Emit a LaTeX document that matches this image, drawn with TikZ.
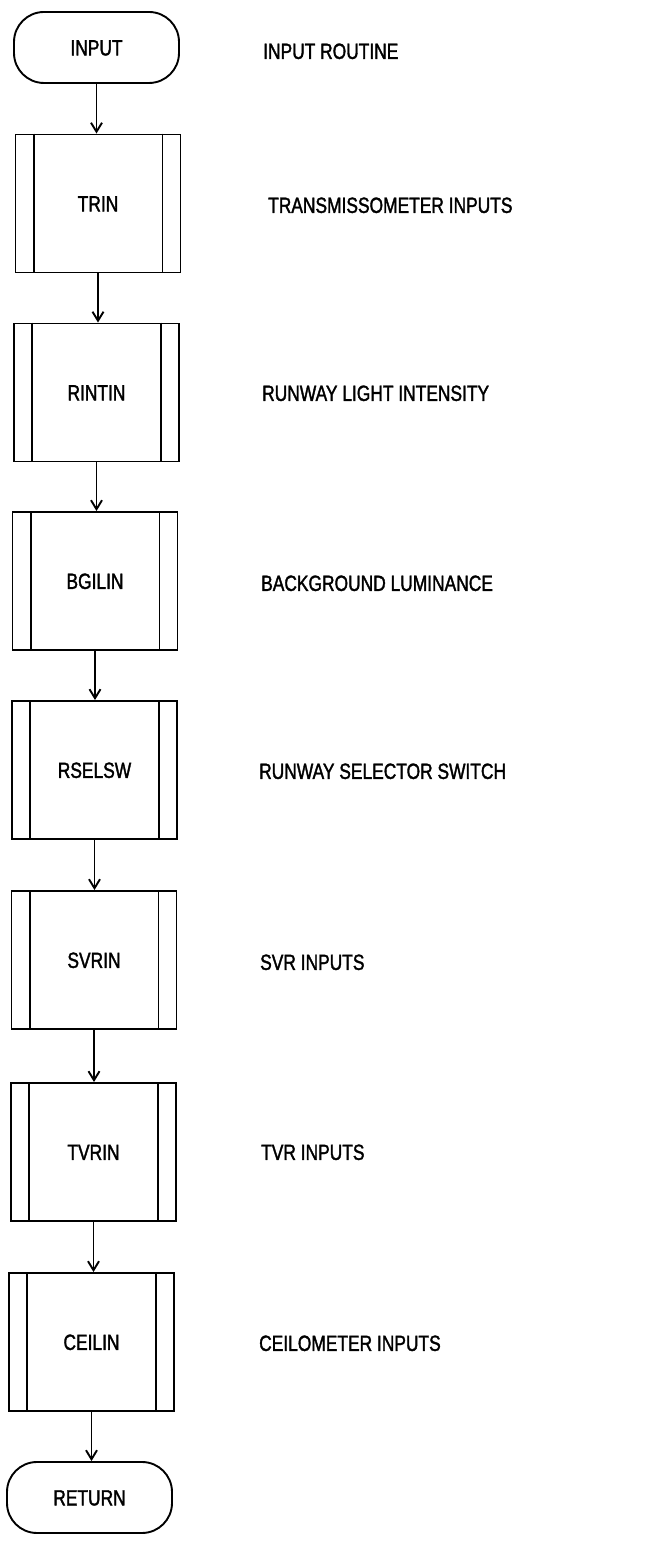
\documentclass[tikz,border=0pt]{standalone}
\usepackage{fontspec}
\setmainfont{Liberation Sans}[FakeStretch=0.79,FakeBold=1.6]
\usetikzlibrary{arrows.meta,calc}
\begin{document}
\begin{tikzpicture}[x=1pt,y=1pt,
  every node/.style={font=\fontsize{22}{24}\selectfont, text height=15.8pt, text depth=0pt},
  line/.style={line width=1.9pt},
  term/.style={line, draw, rounded corners=30pt, minimum width=165pt, minimum height=71pt, inner sep=0pt},
  proc/.style={line, draw, minimum width=165pt, minimum height=138pt, inner sep=0pt},
  desc/.style={anchor=west, inner sep=0pt},
  flow/.style={line, -{Straight Barb[length=9pt,width=11pt,line width=1.9pt]}}
]
\useasboundingbox (0,0) rectangle (645,1542);
\node[term] (input) at (96.5,1494.5) {INPUT};
\node[proc] (trin) at (98,1338.5) {TRIN};
\node[proc] (rintin) at (96.5,1149.5) {RINTIN};
\node[proc] (bgilin) at (95,961) {BGILIN};
\node[proc] (rselsw) at (94.5,772) {RSELSW};
\node[proc] (svrin) at (94,582) {SVRIN};
\node[proc] (tvrin) at (93.5,390) {TVRIN};
\node[proc] (ceilin) at (91.5,200) {CEILIN};
\node[term] (return) at (89.5,44.5) {RETURN};
\foreach \n in {trin,rintin,bgilin,rselsw,svrin,tvrin,ceilin}{
  \draw[line] ($(\n.north west)+(19pt,0)$) -- ($(\n.south west)+(19pt,0)$);
  \draw[line] ($(\n.north east)+(-19pt,0)$) -- ($(\n.south east)+(-19pt,0)$);
}
\draw[flow] (input.south) -- (input.south |- trin.north);
\draw[flow] (trin.south) -- (trin.south |- rintin.north);
\draw[flow] (rintin.south) -- (rintin.south |- bgilin.north);
\draw[flow] (bgilin.south) -- (bgilin.south |- rselsw.north);
\draw[flow] (rselsw.south) -- (rselsw.south |- svrin.north);
\draw[flow] (svrin.south) -- (svrin.south |- tvrin.north);
\draw[flow] (tvrin.south) -- (tvrin.south |- ceilin.north);
\draw[flow] (ceilin.south) -- (ceilin.south |- return.north);
\node[desc] (d0) at (263,1491) {INPUT ROUTINE};
\node[desc] (d1) at (268,1337) {TRANSMISSOMETER INPUTS};
\node[desc] (d2) at (262,1149) {RUNWAY LIGHT INTENSITY};
\node[desc] (d3) at (261,959) {BACKGROUND LUMINANCE};
\node[desc] (d4) at (259,771) {RUNWAY SELECTOR SWITCH};
\node[desc] (d5) at (260,580) {SVR INPUTS};
\node[desc] (d6) at (261,390) {TVR INPUTS};
\node[desc] (d7) at (259,199) {CEILOMETER INPUTS};
\end{tikzpicture}
\end{document}
